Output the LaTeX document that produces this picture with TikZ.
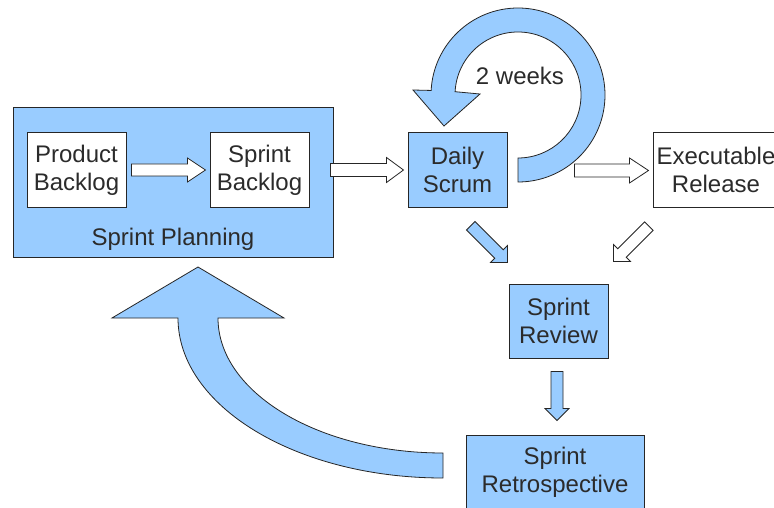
\documentclass[tikz,border=0pt]{standalone}
\usepackage{fontspec}
\setmainfont{Liberation Sans}
\usetikzlibrary{calc}
\definecolor{skyb}{HTML}{99CCFF}
\definecolor{linec}{HTML}{262626}
\definecolor{txt}{HTML}{2B2B2B}
\tikzset{
  box/.style={draw=linec, line width=1pt, rectangle, inner sep=0pt, align=center,
              minimum width=99pt, minimum height=74pt, text=txt},
  bluebox/.style={box, fill=skyb},
  whitebox/.style={box, fill=white},
  bluearr/.style={fill=skyb, draw=linec, line width=0.8pt, line join=miter},
  whitearr/.style={fill=white, draw=linec, line width=0.8pt, line join=miter},
  lbl/.style={text=txt, inner sep=0pt}
}
% style, tip, angle, length, shaft half width, head half width, head length
\newcommand{\blockarr}[7]{%
  \draw[#1, shift={#2}, rotate=#3] (0,0) -- (-#7,#6) -- (-#7,#5) -- (-#4,#5)
    -- (-#4,-#5) -- (-#7,-#5) -- (-#7,-#6) -- cycle;}
\begin{document}
\begin{tikzpicture}[x=1pt, y=1pt, yscale=-1, font=\fontsize{24}{28}\selectfont]
\useasboundingbox (0,0) rectangle (774,508);
\clip (0,0) rectangle (774,508);
\fill[white] (0,0) rectangle (774,508);

% Sprint planning group
\node[bluebox, minimum width=320pt, minimum height=149pt] (planning) at (173,182.5) {};
\node[whitebox] (pb) at (76.5,170) {Product\\Backlog};
\node[whitebox] (sb) at (259.5,170) {Sprint\\Backlog};
\node[lbl] (plabel) at (173,239) {Sprint Planning};

% other boxes
\node[bluebox] (ds) at (457.5,170) {Daily\\Scrum};
\node[whitebox, minimum width=126pt] (er) at (716,170) {Executable\\Release};
\node[bluebox] (sr) at (558.5,321) {Sprint\\Review};
\node[bluebox, minimum width=178pt] (retro) at (555,472) {Sprint\\Retrospective};

% straight block arrows
\blockarr{whitearr}{($(sb.west)+(-4,0)$)}{0}{74}{6}{12}{18}
\blockarr{whitearr}{($(ds.west)+(-4,0)$)}{0}{73}{6.5}{12.5}{17}
\blockarr{whitearr}{($(er.west)+(-4,0.5)$)}{0}{74}{6.5}{12.5}{19}
\blockarr{bluearr}{($(sr.north west)+(-1,-21)$)}{45}{52}{6}{12}{12}
\blockarr{whitearr}{($(sr.north east)+(5,-22)$)}{135}{50}{6}{12}{12}
\blockarr{bluearr}{($(retro.north)+(2,-14)$)}{90}{49}{6}{12}{12}

% circular "2 weeks" arrow
\draw[bluearr] (518,182) arc[start angle=90, end angle=-177, radius=87]
  -- (413,90) -- (444,126) -- (480,94) -- (455.1,91.7)
  arc[start angle=-177, end angle=90, radius=63] -- cycle;
\node[lbl] (weeks) at (520,76) {2 weeks};

% big return arrow from retrospective to planning
\draw[bluearr] (198,267) -- (284,318) -- (218,318)
  arc[start angle=180, end angle=90, x radius=225, y radius=135]
  -- (443,478)
  arc[start angle=90, end angle=180, x radius=265, y radius=160]
  -- (112,318) -- cycle;
\end{tikzpicture}
\end{document}
